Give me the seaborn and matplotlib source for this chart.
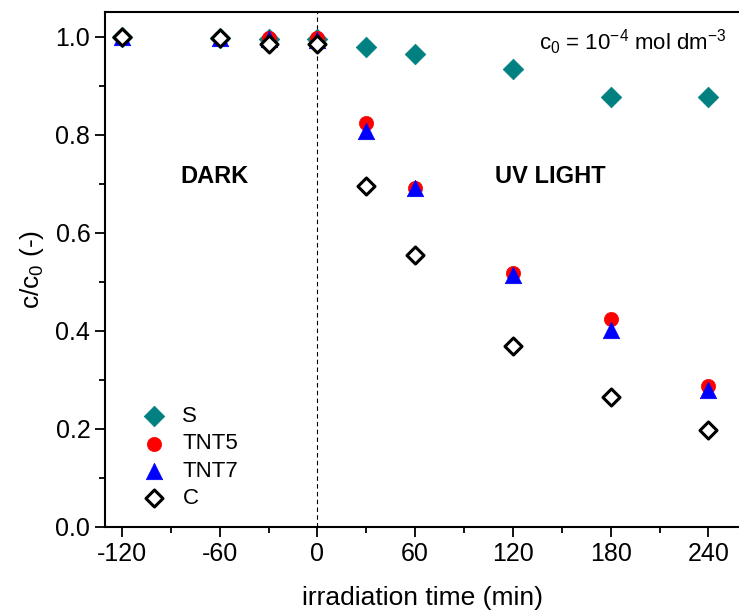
import numpy as np
import pandas as pd
import matplotlib
matplotlib.use("Agg")
import matplotlib.pyplot as plt
from matplotlib.ticker import MultipleLocator, FormatStrFormatter
import seaborn as sns

sns.set_style("ticks")
plt.rcParams['font.family'] = ['Liberation Sans', 'DejaVu Sans']
plt.rcParams['mathtext.fontset'] = 'custom'
plt.rcParams['mathtext.rm'] = 'Liberation Sans'
plt.rcParams['mathtext.it'] = 'Liberation Sans'
plt.rcParams['axes.unicode_minus'] = False
plt.rcParams['text.color'] = 'black'
plt.rcParams['axes.labelcolor'] = 'black'
plt.rcParams['xtick.color'] = 'black'
plt.rcParams['ytick.color'] = 'black'
plt.rcParams['axes.edgecolor'] = 'black'

# 데이터
time = [-120, -60, -30, 0, 30, 60, 120, 180, 240]
s_vals = [1.0, 0.998, 0.996, 0.996, 0.980, 0.965, 0.935, 0.878, 0.878]
tnt5_vals = [1.0, 0.998, 0.998, 0.998, 0.825, 0.692, 0.519, 0.424, 0.287]
tnt7_vals = [1.0, 0.997, 0.996, 0.994, 0.808, 0.692, 0.513, 0.401, 0.279]
c_vals = [1.0, 0.998, 0.986, 0.985, 0.695, 0.554, 0.369, 0.265, 0.198]

fig = plt.figure(figsize=(7.39, 6.12), dpi=100)
ax = fig.add_axes([0.142, 0.139, 0.860, 0.841])

ax.axvline(0, color='black', linestyle='--', linewidth=0.8, dashes=(4, 3), zorder=1)

sns.scatterplot(x=time, y=s_vals, marker='D', s=110, color='#008080',
                edgecolor='#008080', linewidth=0.5, label='S', ax=ax, zorder=3)
sns.scatterplot(x=time, y=tnt5_vals, marker='o', s=105, color='#ff0000',
                edgecolor='#ff0000', linewidth=0.5, label='TNT5', ax=ax, zorder=4)
sns.scatterplot(x=time, y=tnt7_vals, marker='^', s=140, color='#0000ff',
                edgecolor='#0000ff', linewidth=0.5, label='TNT7', ax=ax, zorder=5)
sns.scatterplot(x=time, y=c_vals, marker='D', s=75, facecolor='white',
                edgecolor='black', linewidth=2.2, label='C', ax=ax, zorder=6)

ax.set_xlim(-130.4, 259.7)
ax.set_ylim(0, 1.05)
ax.set_xticks([-120, -60, 0, 60, 120, 180, 240])
ax.xaxis.set_minor_locator(MultipleLocator(30))
ax.yaxis.set_major_locator(MultipleLocator(0.2))
ax.yaxis.set_minor_locator(MultipleLocator(0.1))
ax.yaxis.set_major_formatter(FormatStrFormatter('%.1f'))

ax.tick_params(which='major', direction='out', length=7, width=1.3, labelsize=18)
ax.tick_params(which='minor', direction='out', length=4, width=1.3)
for sp in ax.spines.values():
    sp.set_linewidth(1.5)

ax.set_xlabel('irradiation time (min)', fontsize=19, labelpad=15)
ax.set_ylabel('c/c$_0$ (-)', fontsize=19, labelpad=7)

ax.text(-63, 0.715, 'DARK', fontsize=17, fontweight='bold', ha='center', va='center')
ax.text(143, 0.715, 'UV LIGHT', fontsize=17, fontweight='bold', ha='center', va='center')
ax.text(251.5, 0.988, 'c$_0$ = 10$^{-4}$ mol dm$^{-3}$', fontsize=16, ha='right', va='center')

ax.legend(loc='lower left', bbox_to_anchor=(0.017, 0.005), frameon=False, fontsize=16,
          handletextpad=0.3, labelspacing=0.28, borderaxespad=0.3)

fig.savefig('out.png', dpi=100)
